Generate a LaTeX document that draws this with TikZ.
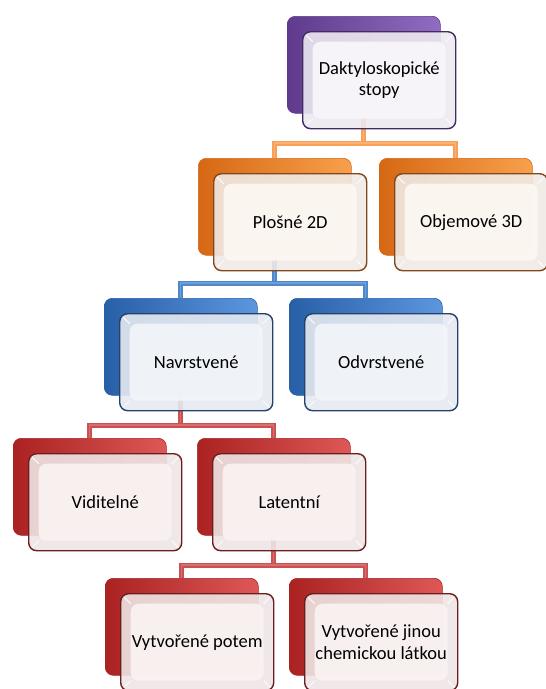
\documentclass[tikz,border=0pt]{standalone}
\usepackage{fontspec}
\setmainfont{Carlito}
\usetikzlibrary{calc}
\pgfdeclarelayer{bg}
\pgfsetlayers{bg,main}
% purple
\definecolor{purMain}{RGB}{122,80,170}
\definecolor{purDark}{RGB}{96,58,140}
\definecolor{purLight}{RGB}{146,108,192}
\definecolor{purEdge}{RGB}{66,44,96}
\definecolor{purFace}{RGB}{248,246,251}
\definecolor{purBand}{RGB}{236,233,240}
% orange
\definecolor{orgMain}{RGB}{240,128,34}
\definecolor{orgDark}{RGB}{214,104,20}
\definecolor{orgLight}{RGB}{248,160,76}
\definecolor{orgEdge}{RGB}{128,72,30}
\definecolor{orgFace}{RGB}{253,247,243}
\definecolor{orgBand}{RGB}{240,234,229}
\definecolor{orgLine}{RGB}{248,160,88}
% blue
\definecolor{bluMain}{RGB}{58,120,200}
\definecolor{bluDark}{RGB}{40,96,168}
\definecolor{bluLight}{RGB}{92,150,222}
\definecolor{bluEdge}{RGB}{36,66,106}
\definecolor{bluFace}{RGB}{242,245,250}
\definecolor{bluBand}{RGB}{229,233,240}
\definecolor{bluLine}{RGB}{80,136,206}
% red
\definecolor{redMain}{RGB}{200,50,50}
\definecolor{redDark}{RGB}{170,34,34}
\definecolor{redLight}{RGB}{222,88,88}
\definecolor{redEdge}{RGB}{108,30,30}
\definecolor{redFace}{RGB}{250,242,242}
\definecolor{redBand}{RGB}{238,229,229}
\definecolor{redLine}{RGB}{204,80,80}
\tikzset{
  backbox/.style={anchor=north west, minimum width=153pt, minimum height=97pt,
    inner sep=0pt, rounded corners=8pt, draw=#1Dark, line width=0.6pt,
    left color=#1Dark, middle color=#1Main, right color=#1Light},
  frontbox/.style={anchor=north west, minimum width=153pt, minimum height=97pt,
    inner sep=0pt, rounded corners=8pt, draw=#1Edge, line width=1.4pt,
    fill=#1Band, fill opacity=0.9, text opacity=1, align=center,
    font=\fontsize{18.5}{21.5}\selectfont,
    path picture={
      \fill[#1Face, fill opacity=0.92]
        ([shift={(10pt,10pt)}]path picture bounding box.south west) rectangle
        ([shift={(-10pt,-10pt)}]path picture bounding box.north east);
      \draw[white, line width=0.8pt]
        (path picture bounding box.south west) -- ++(10pt,10pt)
        (path picture bounding box.north west) -- ++(10pt,-10pt)
        (path picture bounding box.north east) -- ++(-10pt,-10pt)
        (path picture bounding box.south east) -- ++(-10pt,10pt);
    }},
  conn/.style={line width=5pt, draw=#1Line, line join=miter,
    postaction={draw=#1Line!82!white, line width=1.2pt}},
}
\begin{document}
\begin{tikzpicture}[x=1pt,y=-1pt]
\useasboundingbox (0,0) rectangle (546,689);
% level 1
\node[backbox=pur] (topb) at (287,16) {};
\node[frontbox=pur] (top) at (302,31) {Daktyloskopické\\stopy};
% level 2
\node[backbox=org] (plb) at (198,158) {};
\node[frontbox=org] (pl) at (213,173) {Plošné 2D};
\node[backbox=org] (obb) at (379,158) {};
\node[frontbox=org] (ob) at (394,173) {Objemové 3D};
% level 3
\node[backbox=blu] (nab) at (104,298) {};
\node[frontbox=blu] (na) at (119,313) {Navrstvené};
\node[backbox=blu] (odb) at (289,298) {};
\node[frontbox=blu] (od) at (304,313) {Odvrstvené};
% level 4
\node[backbox=red] (vib) at (13,438) {};
\node[frontbox=red] (vi) at (28,453) {Viditelné};
\node[backbox=red] (lab) at (197,438) {};
\node[frontbox=red] (la) at (212,453) {Latentní};
% level 5
\node[backbox=red] (pob) at (105,578) {};
\node[frontbox=red] (po) at (120,593) {Vytvořené potem};
\node[backbox=red] (chb) at (289,578) {};
\node[frontbox=red] (ch) at (304,593) {Vytvořené jinou\\chemickou látkou};
% buses
\coordinate (bus1) at (0,143);
\coordinate (bus2) at (0,283);
\coordinate (bus3) at (0,425);
\coordinate (bus4) at (0,565);
\begin{pgfonlayer}{bg}
\draw[conn=org] (topb.center) -- (topb.center |- bus1);
\draw[conn=org] (plb.north) |- (bus1 -| topb.center) -| (obb.north);
\draw[conn=blu] (plb.center) -- (plb.center |- bus2);
\draw[conn=blu] (nab.north) |- (bus2 -| plb.center) -| (odb.north);
\draw[conn=red] (nab.center) -- (nab.center |- bus3);
\draw[conn=red] (vib.north) |- (bus3 -| nab.center) -| (lab.north);
\draw[conn=red] (lab.center) -- (lab.center |- bus4);
\draw[conn=red] (pob.north) |- (bus4 -| lab.center) -| (chb.north);
\end{pgfonlayer}
\end{tikzpicture}
\end{document}
